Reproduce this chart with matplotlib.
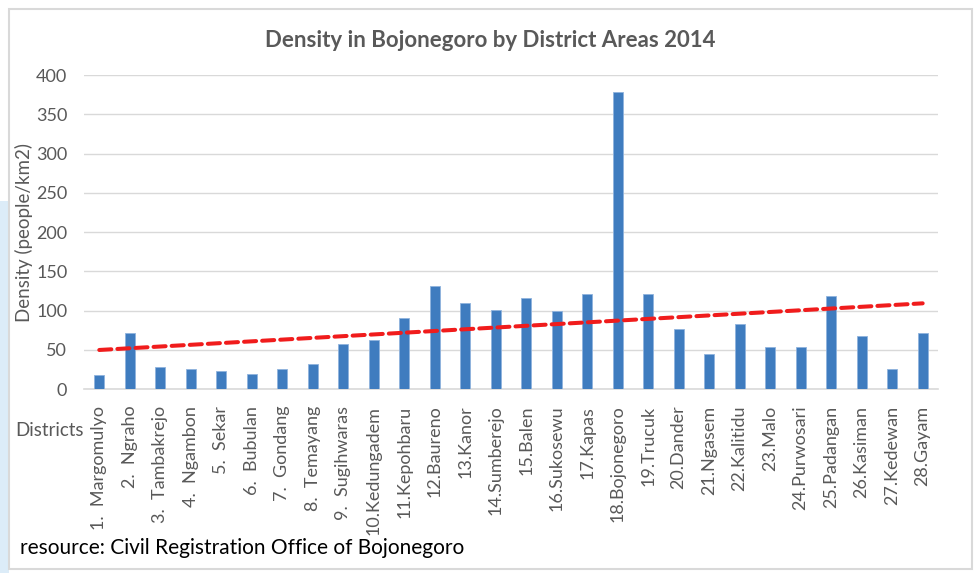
import matplotlib.pyplot as plt
from matplotlib.patches import Rectangle
import numpy as np

districts = ["1.  Margomulyo", "2.  Ngraho", "3.  Tambakrejo", "4.  Ngambon",
             "5.  Sekar", "6.  Bubulan", "7.  Gondang", "8.  Temayang",
             "9.  Sugihwaras", "10.Kedungadem", "11.Kepohbaru", "12.Baureno",
             "13.Kanor", "14.Sumberejo", "15.Balen", "16.Sukosewu", "17.Kapas",
             "18.Bojonegoro", "19.Trucuk", "20.Dander", "21.Ngasem",
             "22.Kalitidu", "23.Malo", "24.Purwosari", "25.Padangan",
             "26.Kasiman", "27.Kedewan", "28.Gayam"]
density = [18, 71, 28, 26, 23, 19, 26, 32, 58, 62, 90, 131, 110, 101, 116, 99,
           121, 379, 121, 77, 45, 83, 54, 53, 119, 67, 26, 71]
yticks = [0, 50, 100, 150, 200, 250, 300, 350, 400]

plt.rcParams['font.family'] = ['Lato', 'DejaVu Sans']
gray = '#595959'

fig = plt.figure(figsize=(9.77, 5.73), dpi=100)
# light blue decoration on the left and the chart border
fig.patches.append(Rectangle((0, 0), 0.009, 0.65, transform=fig.transFigure,
                             facecolor='#dcecf8', edgecolor='none', zorder=0))
fig.patches.append(Rectangle((0.009, 0.007), 0.986, 0.977, transform=fig.transFigure,
                             facecolor='white', edgecolor='#d9d9d9', lw=1.5, zorder=1))

ax = fig.add_axes([0.086, 0.321, 0.874, 0.548])
ax.set_zorder(3)
ax.set_facecolor('none')
x = np.arange(len(districts))
ax.bar(x, density, width=0.32, color='#3f7cbf', edgecolor='#8fb3dd', lw=0.6, zorder=3)

# linear trendline
k, b = np.polyfit(x + 1, density, 1)
ax.plot(x, k * (x + 1) + b, color='#f01c1c', lw=2.9, ls=(0, (3, 1.5)),
        dash_capstyle='round', zorder=4)

ax.set_xlim(-0.5, len(districts) - 0.5)
ax.set_ylim(0, 400)
ax.set_yticks(yticks)
ax.yaxis.grid(True, color='#d9d9d9', lw=1)
ax.set_axisbelow(True)
for s in ['top', 'right', 'left']:
    ax.spines[s].set_visible(False)
ax.spines['bottom'].set_color('#d9d9d9')
ax.spines['bottom'].set_linewidth(1.2)
ax.tick_params(length=0, colors=gray, labelsize=13)
ax.tick_params(axis='y', pad=12)
ax.set_xticks(x)
ax.set_xticklabels(districts, rotation=90, fontsize=13, color=gray)
ax.tick_params(axis='x', pad=12)

ax.set_ylabel("Density (people/km2)", fontsize=13.5, color=gray, labelpad=2)
fig.text(0.502, 0.930, "Density in Bojonegoro by District Areas 2014",
         ha='center', va='center', fontsize=16, fontweight='bold', color=gray)
fig.text(0.016, 0.249, "Districts", ha='left', va='center', fontsize=13.5, color=gray)
fig.text(0.020, 0.043, "resource: Civil Registration Office of Bojonegoro",
         ha='left', va='center', fontsize=15, color='black')

fig.savefig("out.png", dpi=100)
